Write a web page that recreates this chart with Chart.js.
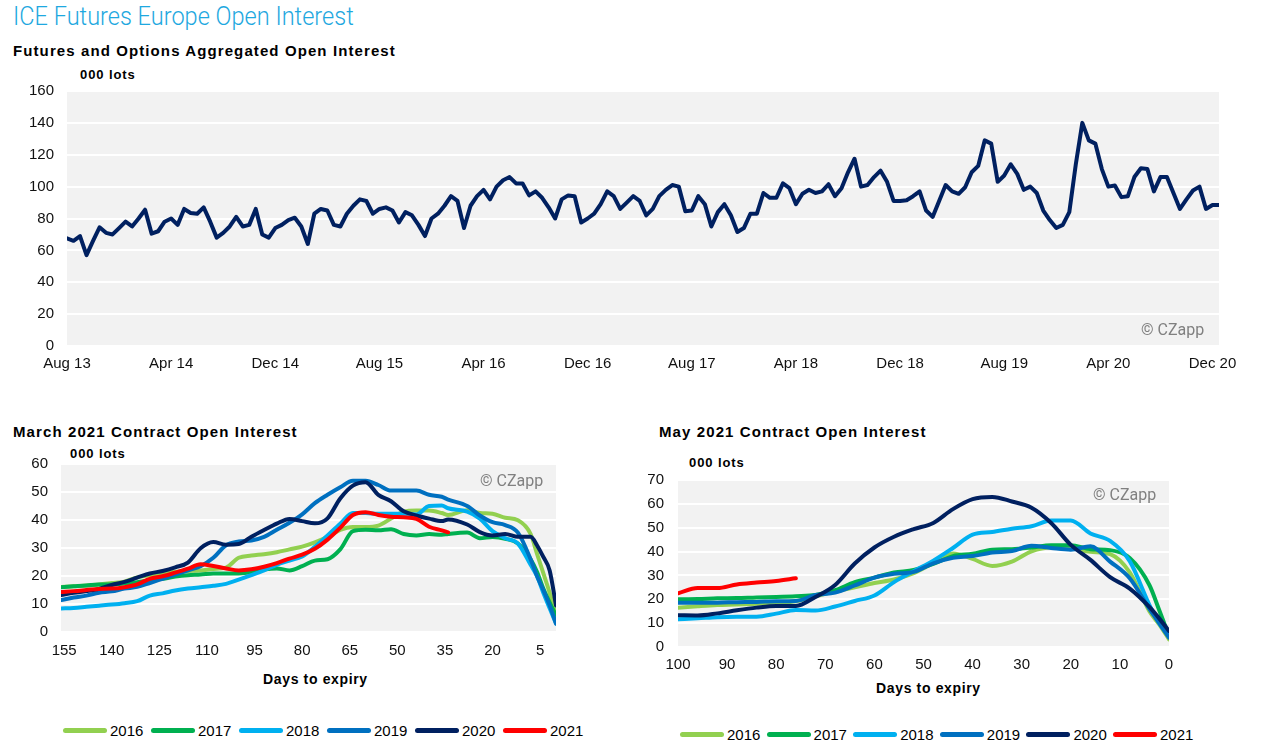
<!DOCTYPE html>
<html><head><meta charset="utf-8">
<script src="https://cdn.jsdelivr.net/npm/chart.js@4.4.0/dist/chart.umd.min.js"></script>
<style>
body{margin:0;background:#fff;width:1270px;height:756px;position:relative;overflow:hidden;font-family:"Liberation Sans",Arial,sans-serif;}
.t{position:absolute;white-space:nowrap;color:#000;}
.b{font-weight:bold;}
.h{font-size:15px;line-height:17px;letter-spacing:1.1px;}
.u{font-size:13px;line-height:15px;letter-spacing:0.9px;}
.d{font-size:14px;line-height:16px;letter-spacing:0.65px;}
.wm{position:absolute;white-space:nowrap;color:#808080;font-family:"Liberation Sans Narrow","Roboto",sans-serif;font-size:16px;line-height:20px;}
canvas{position:absolute;}
.lg{position:absolute;height:20px;}
.lg .bar{position:absolute;left:0;top:7px;width:44px;height:5px;border-radius:3px;}
.lg .lab{position:absolute;left:47px;top:0;font-size:15px;line-height:20px;color:#000;}
</style></head><body>
<div class="t" id="mainTitle" style="left:13px;top:0px;font:300 26px Roboto,sans-serif;line-height:32px;color:#1ea8e0;transform:scaleX(0.905);transform-origin:0 0;">ICE Futures Europe Open Interest</div>
<div class="t b h" style="left:13px;top:42px;">Futures and Options Aggregated Open Interest</div>
<div class="t b u" style="left:80px;top:67px;">000 lots</div>
<div class="t b h" style="left:13px;top:423px;">March 2021 Contract Open Interest</div>
<div class="t b u" style="left:70px;top:446px;">000 lots</div>
<div class="t b h" style="left:659px;top:423px;">May 2021 Contract Open Interest</div>
<div class="t b u" style="left:689px;top:455px;">000 lots</div>
<div class="t b d" style="left:263px;top:671px;">Days to expiry</div>
<div class="t b d" style="left:876px;top:680px;">Days to expiry</div>

<canvas id="c1" width="1240" height="300" style="left:0;top:80px;"></canvas>
<canvas id="c2" width="600" height="260" style="left:0;top:440px;"></canvas>
<canvas id="c3" width="620" height="270" style="left:630px;top:440px;"></canvas>

<div class="wm" style="left:1141px;top:320px;">© CZapp</div>
<div class="wm" style="left:480px;top:471px;">© CZapp</div>
<div class="wm" style="left:1093px;top:485px;">© CZapp</div>

<script>
// ---------- DATA ----------
const topTickLabels = ['Aug 13','Apr 14','Dec 14','Aug 15','Apr 16','Dec 16','Aug 17','Apr 18','Dec 18','Aug 19','Apr 20','Dec 20'];
// aggregated open interest, 000 lots, twice a month from Aug 2013 to Dec 2020
const openInterest = [
 67.5,66,69,57,66,74.5,71,70,74,78,75,80,85.5,70.5,72,78,80,76,86,83.5,
 83,87,78,68,71,75,81,75,76,86,70,68,74,76,79,80.5,75,64,83,86,
 85,76,75,83,88,92,91,83,86,87,85,77.5,84,82,76,69,80,83,88,94,
 91,74,88,94,98,92,100,104,106,102,102,94.5,97,93,87,80,92,94.5,94,77.5,
 80,83,89,97,94,86,90,94,91,82,86,94,98,101,100,84.5,85,94,89,75,
 84,89,82,71.5,74,83,83,96,93,93,102,99,89,95.5,98,96,97,101.5,94,99,
 109,117.5,100,101,106,110,103,91,91,91.5,94,97,85,81,91,101,97,95.5,99.6,109,
 113,129,127,103,107,114,108,98,100,96,85,79,74,76,84,114,140,129,127,111,
 100,100.7,93.4,94,106,111.5,111,97,106,106,96,86,92,97.6,100,86,88.5,88.5
];

const years  = ['2016','2017','2018','2019','2020','2021'];
const colors = ['#92d050','#00b050','#00b0f0','#0070c0','#002060','#ff0000'];

// March 2021 contract chart (days to expiry)
const marchTicks = [155,140,125,110,95,80,65,50,35,20,5];
const marchDays = [156,152,148,144,140,136,132,128,124,120,116,112,108,104,100,96,92,88,84,80,76,72,68,64,60,56,52,48,44,40,36,34,28,24,20,16,12,8,6,4,2,0];
const march2016 = [16.1,16.3,16.6,17,17.5,18,19.5,20.3,21,21.5,21.8,22,22.5,23,26.5,27.3,27.8,28.5,29.5,30.5,32,34,36.5,37.5,37.5,38,40.5,43,43.4,43.4,42.5,41.8,43.5,42.5,42.2,40.8,39.9,35,28,21,14,6];
const march2017 = [16,16.3,16.6,17,17,17.3,17.8,18.5,19,19.8,20.3,20.5,20.9,20.9,20.9,21.3,22.3,22.7,22,23.5,25.5,26,29.5,36,36.5,36.3,36.7,35,34.5,35,34.7,35,35.5,33.5,33.9,33.3,31.6,26,21.5,15.5,10.5,6];
const march2018 = [8.4,8.6,9,9.4,9.8,10.3,11,13,13.8,14.8,15.5,16,16.5,17.2,18.7,20.3,22,24,25.5,27,30.4,34.5,38.7,42.5,42.5,42.2,42.2,42.2,42,45,45.2,44.2,43,40.5,36,33.5,31.6,24,20,14,8.5,3];
const march2019 = [11.4,12.3,13,14,14.5,15.5,16.1,17.5,19,20.5,22,23.5,26.5,31,32.3,32.7,34,36.5,39,42,46,49,51.7,54,54,52.5,50.5,50.5,50.5,49,48.3,47.3,45,41.6,39.2,38.2,35.5,26,20,15,9.5,3];
const march2020 = [13.2,14,14.6,15.4,16.8,17.9,19.4,20.9,21.8,23.1,24.8,29.9,32.1,31.2,31.4,34,36.4,38.7,40.4,39.6,38.8,40.6,47.7,52.3,53.5,49,46.7,43.1,41.6,40.5,39.6,40.2,38.4,35.7,34.5,35,34,34,31,26.8,22,9.5];
const march2021 = [14.3,14.6,15,15.4,15.5,16,17,19,19.9,21.2,22.6,24.2,23.6,22.7,22,22.4,23.3,24.6,26.2,27.6,29.7,33,37.2,41.8,42.8,41.8,41.2,41,40.4,37.6,36.3,35.6,null,null,null,null,null,null,null,null,null,null];

// May 2021 contract chart (days to expiry)
const mayTicks = [100,90,80,70,60,50,40,30,20,10,0];
const mayDays = [100,96,92,88,84,80,76,72,68,64,60,56,52,48,44,40,36,32,28,24,20,16,12,8,4,2,0];
const may2016 = [16.5,17.1,17.6,17.8,18.1,18.6,19.2,21.2,23.3,25,26.8,28.3,31,35.2,39.2,36.9,34,35.8,40.1,41.7,41.4,39.9,38.9,31.3,15,9.5,3.2];
const may2017 = [20,20.1,20.4,20.5,20.8,21,21.3,21.8,23.8,27.2,29.1,31.2,32.3,34.8,38.1,39.1,40.8,41,41.7,42.7,42.7,41,40.6,37.3,26,15.5,4.6];
const may2018 = [11.6,12,12.5,12.7,12.7,14,15.5,15.3,17,19.3,21.6,27.2,31.8,36.2,41.5,47.1,48.2,49.6,50.6,53,53,47.6,44.5,36,17.7,10,4.6];
const may2019 = [18.6,18.6,18.6,18.8,18.9,19.2,19.3,21.8,22.8,25.8,29.1,30.7,31.5,35.1,37.4,38.1,39.6,40.2,42.4,41.5,40.8,42.2,35.8,28.8,16,10,3.9];
const may2020 = [13.3,13.2,14.1,15.4,16.5,17.2,17.2,21,26,35,41.7,46.2,49.4,52,57.8,62,62.9,61,58.4,52,42.8,36.5,29.3,24.5,16.8,12,6.7];
const may2021 = [22.5,24.7,24.7,26.2,27,27.7,28.8,null,null,null,null,null,null,null,null,null,null,null,null,null,null,null,null,null,null,null,null];

// ---------- HELPERS ----------
const FONT = "'Liberation Sans', Arial, sans-serif";
const bgPlugin = {id:'bg', beforeDraw(chart){
  const {ctx, chartArea:a} = chart;
  ctx.save(); ctx.fillStyle = '#f2f2f2';
  ctx.fillRect(a.left, a.top, a.right - a.left, a.bottom - a.top);
  ctx.restore();
}};
function lineDs(label, color, xs, ys, order){
  return {label, data: xs.map((x,i)=>({x, y: ys[i]})), borderColor: color, backgroundColor: color,
    borderWidth: 4, pointRadius: 0, fill:false, cubicInterpolationMode:'monotone', tension:0.3,
    borderJoinStyle:'round', borderCapStyle:'round', spanGaps:false, order};
}
function opts(o){
  return {
    responsive:false, animation:false, events:[],
    layout:{padding:o.padding},
    plugins:{legend:{display:false}, tooltip:{enabled:false}, title:{display:false}},
    scales:{
      x:{type:'linear', min:o.xmin, max:o.xmax, reverse:o.reverse,
        grid:{display:false, drawTicks:false}, border:{display:false},
        afterBuildTicks: s => { s.ticks = o.xticks.map(v=>({value:v})); },
        afterFit: s => { s.height = o.xh; s.paddingLeft = 0; s.paddingRight = 0; },
        ticks:{autoSkip:false, maxRotation:0, padding:o.xpad, color:'#111', font:{family:FONT, size:15},
          callback: o.xcb}},
      y:{min:0, max:o.ymax, grid:{color:'#ffffff', lineWidth:2, drawTicks:false}, border:{display:false},
        afterFit: s => { s.width = o.yw; s.paddingTop = 0; s.paddingBottom = 0; },
        ticks:{stepSize:o.ystep, padding:o.ypad, color:'#111', font:{family:FONT, size:15}}}
    }
  };
}

// ---------- TOP CHART ----------
const topTickPos = topTickLabels.map((_,i)=>i*16);
new Chart(document.getElementById('c1'), {
  type:'line',
  data:{datasets:[{data: openInterest.map((v,i)=>({x:i, y:v})), borderColor:'#002060', borderWidth:4,
    pointRadius:0, tension:0, borderJoinStyle:'round', borderCapStyle:'round'}]},
  options: opts({padding:{top:11,right:21,left:0,bottom:0}, xmin:0, xmax:openInterest.length-1, reverse:false,
    xticks: topTickPos, xh:34, xpad:9, xcb:(v,i)=>topTickLabels[i], ymax:160, ystep:20, yw:67, ypad:13}),
  plugins:[bgPlugin]
});

// ---------- MARCH CHART ----------
const marchSeries = [march2016, march2017, march2018, march2019, march2020, march2021];
new Chart(document.getElementById('c2'), {
  type:'line',
  data:{datasets: marchSeries.map((s,i)=>lineDs(years[i], colors[i], marchDays, s, 6-i))},
  options: opts({padding:{top:24,right:44,left:0,bottom:0}, xmin:0, xmax:156, reverse:true,
    xticks: marchTicks, xh:68, xpad:10, xcb:(v)=>String(v), ymax:60, ystep:10, yw:61, ypad:13}),
  plugins:[bgPlugin]
});

// ---------- MAY CHART ----------
const maySeries = [may2016, may2017, may2018, may2019, may2020, may2021];
new Chart(document.getElementById('c3'), {
  type:'line',
  data:{datasets: maySeries.map((s,i)=>lineDs(years[i], colors[i], mayDays, s, 6-i))},
  options: opts({padding:{top:40,right:81,left:0,bottom:0}, xmin:0, xmax:100, reverse:true,
    xticks: mayTicks, xh:63, xpad:9, xcb:(v)=>String(v), ymax:70, ystep:10, yw:48, ypad:14}),
  plugins:[bgPlugin]
});

// ---------- LEGENDS ----------
function legend(x0, pitch, yc){
  years.forEach((y,i)=>{
    const d = document.createElement('div'); d.className='lg';
    d.style.left = (x0 + i*pitch) + 'px'; d.style.top = (yc-10) + 'px';
    d.innerHTML = '<div class="bar" style="background:'+colors[i]+'"></div><div class="lab">'+y+'</div>';
    document.body.appendChild(d);
  });
}
legend(63, 88, 731);
legend(680, 86.6, 735);
</script>
</body></html>
